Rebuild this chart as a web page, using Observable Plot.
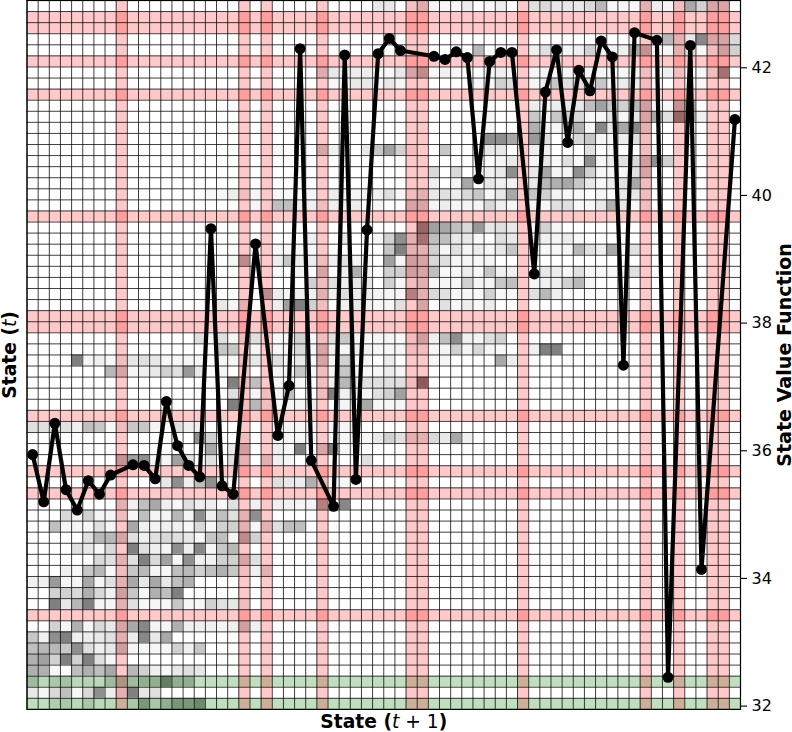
<!DOCTYPE html>
<html>
<head>
<meta charset="utf-8">
<script src="https://cdn.jsdelivr.net/npm/d3@7"></script>
<script src="https://cdn.jsdelivr.net/npm/@observablehq/plot@0.6"></script>
<style>
html,body{margin:0;padding:0;background:#fff}
svg{display:block}
</style>
</head>
<body>
<div id="chart"></div>
<script>
const nStates = 64;
const holeStates = [8,19,21,26,34,35,44,55,58,61,62];
const goalRowStates = [0,2];
const valueStates = [0,1,2,3,4,5,6,7,9,10,11,12,13,14,15,16,17,18,20,22,23,24,25,27,28,29,30,31,32,33,36,37,38,39,40,41,42,43,45,46,47,48,49,50,51,52,53,54,56,57,59,60,63];
const stateValues = [35.94,35.20,36.43,35.39,35.07,35.53,35.32,35.62,35.78,35.77,35.56,36.77,36.08,35.77,35.59,39.48,35.45,35.32,39.24,36.24,37.02,42.30,35.85,35.13,42.20,35.55,39.46,42.22,42.46,42.27,42.18,42.13,42.25,42.16,40.26,42.10,42.24,42.24,38.77,41.62,42.28,40.83,41.96,41.64,42.42,42.17,37.34,42.55,42.43,32.45,42.35,34.14,41.19];
const valueTicks = [32,34,36,38,40,42];
const valueDomain = [31.948,43.054];

// rows are counted from the top; each list is col, shade, col, shade, ...
const transitionRows = {
0:[31,9,32,9,34,4,35,15,36,4,37,3,38,3,39,7,41,3,42,7,45,12,46,15,47,9,48,9,49,9,50,15,51,28,52,3,53,4,54,3,55,12,56,7,57,4,58,6,59,34,60,18,61,18,62,18],
3:[56,7,57,28,58,12,59,9,60,47,61,18,62,18,63,15],
4:[40,28,45,6,46,12,47,4,48,4,49,6,50,18,51,6,52,4,53,6,54,34,55,28,56,4,57,4,58,12,59,15,60,3,61,6,62,22,63,18],
6:[26,15,27,9,28,7,29,7,30,7,31,3,32,3,33,9,34,18,35,31,36,3,37,6,38,3,41,3,42,6,43,3,45,4,46,4,47,4,48,4,49,4,50,4,51,4,52,3,53,3,54,4,55,6,56,3,57,6,58,6,59,3,60,3,61,6,62,44],
7:[27,3,28,4,29,9,30,9,31,4,32,9,33,4,40,3,41,3,42,18,43,12,45,4,46,7,47,22,48,12,49,12,50,12,51,22,52,4,53,7,54,7,55,6,56,3,59,3,60,3],
9:[45,7,46,3,47,7,48,9,49,9,50,25,51,37,52,22,53,18,54,28,55,22,56,4,57,3,58,28,59,37],
10:[40,3,41,3,45,22,46,4,47,22,48,18,49,15,50,3,51,3,52,9,53,3,54,9,55,18,56,34,57,12,58,50,59,37,60,6],
11:[41,3,45,31,46,4,47,3,48,9,49,31,50,4,51,47,52,9,53,34,54,47,55,12],
12:[41,44,42,44,43,34,45,40,46,12,49,15,50,22,51,4,52,3,53,7,54,12,55,6],
13:[22,3,26,18,27,6,28,6,30,9,31,22,32,37,33,18,34,6,37,22,40,6,41,9,42,9,45,7,46,6,50,12,52,3,55,6],
14:[42,4,43,9,45,4,46,9,47,3,48,12,49,3,50,44,51,4,52,7,53,12,54,15,55,22,56,44,57,18],
15:[36,15,38,15,41,6,42,9,43,44,45,9,46,34,47,4,48,4,49,44,50,18,51,3,52,3,53,4,54,12,55,18],
16:[36,6,38,4,39,34,41,9,42,6,43,6,45,9,46,28,47,31,48,34,49,22,50,9,51,3,52,7,53,12,54,34,55,6],
17:[16,3,17,3,18,7,19,6,20,4,22,3,23,3,25,4,27,7,28,4,29,4,30,6,31,6,32,12,33,4,34,6,35,12,36,9,37,12,38,7,39,15,40,22,41,4,42,9,43,34,45,22,46,18,47,4,48,3,49,3,51,4,53,9,54,9,55,6],
18:[20,4,22,25,23,25,24,7,25,6,26,6,27,6,28,6,29,7,31,4,34,18,35,18,36,4,37,7,38,4,39,4,40,4,41,15,42,6,43,4,45,4,46,3,47,12,48,12,49,3,50,3,51,9,52,31,53,9,54,3,55,6],
20:[35,50,36,37,37,34,38,25,39,15,40,40,41,9,42,12,43,9,45,4,46,18,47,4],
21:[25,6,28,9,31,3,32,18,33,44,34,12,35,44,36,25,37,25,38,9,39,9,40,3,42,12,43,9,45,6,46,6,47,4,48,7,49,3],
22:[22,3,23,3,24,3,25,3,32,22,33,50,34,12,35,12,36,18,37,4,38,12,39,4,40,7,41,4,42,9,43,22,45,6,46,3,47,3,48,4,49,28,50,12,51,7,52,34,54,12],
23:[18,4,19,31,22,7,23,22,24,7,25,7,26,6,27,6,28,12,29,4,30,4,32,37,33,4,34,22,35,18,36,15,37,12,38,4,39,3,40,3,41,4,45,3],
24:[22,3,24,4,26,18,28,7,29,31,30,4,32,18,33,18,34,22,35,18,36,25,37,3,38,3,39,7,40,3,41,22,42,6,43,6,46,9,47,7,48,3,49,12,50,3,51,3,52,3,53,3,54,12],
25:[25,18,26,6,27,12,28,6,29,9,30,9,32,18,33,4,34,6,35,12,36,3,37,4,38,3,39,18,40,4,41,4,42,22,43,25,45,4,46,6,47,6,48,18,49,28,50,4],
26:[21,31,22,7,23,4,24,6,25,6,26,12,27,6,28,12,29,7,30,7,31,4,32,4,33,4,34,37,35,12,36,15,37,12,38,3,39,3,40,3,41,18,42,3,43,3,45,12,46,28,47,6],
27:[17,9,18,4,19,12,22,7,23,37,24,50,25,18,26,6,28,6,29,9,30,6,31,3,32,3,33,12,35,18,37,12,38,3,39,7,40,3,41,7],
30:[15,12,16,3,17,12,18,4,19,6,20,12,22,3,23,4,24,18,25,3,26,6,27,12,28,22,29,4,30,3,31,4,32,4,33,3,34,6,35,22,36,6,37,25,38,44,39,6,40,4,41,12,42,18],
31:[17,22,18,22,20,4,22,3,23,4,24,15,25,3,26,18,27,6,28,4,29,6,30,6,31,3,32,3,33,4,34,6,35,6,36,3,37,4,38,18,39,4,40,15,41,4,42,3,45,6,46,50,47,50],
32:[4,50,5,4,6,6,7,3,8,6,9,9,10,12,11,9,12,3,13,3,14,3,15,3,17,4,18,3,19,6,20,9,22,12,23,4,24,9,25,3,26,18,27,4,28,18,29,3,30,3,32,7,36,3,37,4,42,34,43,7],
33:[7,28,8,18,9,3,10,6,11,9,12,18,13,12,14,40,15,9,17,4,22,4,23,4,24,22,25,3,26,6,27,3,28,22,29,3,30,3,31,3,32,7,33,4],
34:[18,50,19,6,20,25,22,3,24,3,26,6,27,6,28,28,29,9,30,12,31,12,32,12,33,12,34,6,35,55],
35:[18,12,20,4,21,6,22,4,23,25,26,6,27,50,28,6,29,6,30,4,31,12,32,18,33,37],
36:[18,50,19,6,20,28,21,6,22,3,23,4,24,4,25,7,28,4,29,3,30,34,31,3,32,3,33,4],
38:[0,12,1,12,2,12,3,12,4,6,5,25,6,22,7,3,8,6,9,22,10,22,11,4,12,3,13,12,14,6,15,6,22,4,23,4,24,4,25,4,27,4,28,4,29,4],
39:[15,44,16,18,19,6,22,4,23,4,24,4,25,4,27,4,28,4,29,4,30,3,31,9,32,18,33,12,34,12,35,12,36,15,37,9,38,34,39,6],
40:[16,34,18,9,19,22,22,7,23,3,24,50,26,18,27,50,28,3,29,4],
41:[8,28,9,37,10,44,11,4,12,4,13,37,14,12,16,12,18,12,19,12,21,12,22,6,23,4,30,12],
43:[12,9,13,44,14,6,15,25,16,44,17,9,22,12,23,9,24,7,25,31,26,6,28,3],
45:[8,12,9,6,10,25,11,34,12,6,13,3,14,12,15,7,16,7,17,3,18,12,20,6,22,6,23,6,24,4,25,4,26,37,28,47],
46:[3,15,4,4,5,18,6,4,7,4,8,6,9,3,10,25,11,4,12,4,13,28,14,4,15,44,16,6,17,25,18,12,19,12,20,44],
47:[2,25,3,4,4,4,5,3,6,12,7,4,9,34,10,6,11,4,12,6,13,6,14,3,15,15,16,3,17,18,18,18,19,12,20,3,21,12,22,12,23,25,24,25],
48:[5,12,6,28,7,28,8,18,9,12,10,6,11,12,12,15,13,12,14,9,15,3,16,22,17,25,18,4,19,31,20,18],
49:[4,12,5,9,6,3,7,15,9,50,10,12,11,6,12,4,13,44,14,6,15,47,16,4,17,22,18,28],
50:[6,15,7,12,8,12,9,12,10,50,11,15,12,37,13,3,14,44,15,6,16,6,17,18,18,18,19,18,20,12],
51:[3,6,4,3,5,22,6,28,7,3,8,6,9,22,10,28,11,4,12,3,13,25,14,28,15,18,16,25,17,31,18,22,19,6,20,6,21,12],
52:[0,6,1,6,2,40,3,4,4,4,5,34,6,4,7,12,8,12,9,34,10,9,11,34,12,9,13,25,14,31],
53:[2,18,3,18,4,15,5,31,6,15,7,6,8,22,9,22,10,3,11,31,12,25,13,50],
54:[2,50,3,9,4,28,5,50,6,4,7,4,8,12,9,12,10,3,11,3,12,3,13,22,14,3,15,3,16,18,17,12,18,9,19,6],
56:[2,18,3,4,4,31,5,4,6,15,7,9,8,18,9,34,10,47,11,4,12,4,13,31,14,6,15,6,16,6,17,4,18,6,19,22,20,6],
57:[0,22,1,6,2,44,3,50,4,6,5,7,6,9,7,12,8,12,9,7,10,47,11,9,12,34],
58:[0,25,1,28,2,28,3,22,4,44,5,12,6,6,7,9,8,22,9,4,10,3,11,3,12,3,13,18,14,6,15,22],
59:[0,31,1,37,2,18,3,50,4,18,5,50,6,12,7,3],
60:[0,31,1,31,2,3,4,25,5,31,6,25,7,34,9,28,10,18,11,6,12,3,13,9,14,12,15,9],
61:[0,18,1,3,2,12,3,15,4,3,5,6,6,3,7,18,8,18,9,18,10,25,11,25,12,50,13,25,14,25],
62:[0,9,1,3,2,15,3,25,4,3,5,15,6,44,7,7,8,12,9,50,10,9,11,12],
63:[2,9,3,12,4,3,5,12,6,3,7,3,9,12,10,37,11,12,12,25,13,37,14,37,15,44]
};

const rowHeight = (valueDomain[1] - valueDomain[0]) / nStates;
const rowTop = r => valueDomain[1] - r * rowHeight;
const xMin = -0.5, xMax = nStates - 0.5;

const shadeCells = [];
for (const [r, list] of Object.entries(transitionRows)) {
  for (let i = 0; i < list.length; i += 2) shadeCells.push({row: +r, col: list[i], shade: list[i + 1]});
}
const points = valueStates.map((s, i) => ({state: s, value: stateValues[i]}));
const edges = d3.range(nStates + 1);

const rowBand = (states, opts) => Plot.rect(states, {
  x1: xMin, x2: xMax,
  y1: s => rowTop(nStates - s),
  y2: s => rowTop(nStates - 1 - s),
  ...opts
});

const midX = (xMin + xMax) / 2, midY = (valueDomain[0] + valueDomain[1]) / 2;
const labelFont = {fontSize: 18.7, fontWeight: "bold", fill: "black"};

const plot = Plot.plot({
  width: 792,
  height: 732,
  marginTop: 0,
  marginLeft: 26.5,
  marginRight: 52,
  marginBottom: 23.1,
  style: {background: "white", fontFamily: "'DejaVu Sans'", fontSize: "16px", color: "black", overflow: "visible"},
  x: {domain: [xMin, xMax], axis: null},
  y: {domain: valueDomain},
  color: {type: "linear", domain: [0, 100], range: ["white", "black"]},
  marks: [
    Plot.rect(shadeCells, {
      x1: d => d.col - 0.5, x2: d => d.col + 0.5,
      y1: d => rowTop(d.row + 1), y2: d => rowTop(d.row),
      fill: "shade"
    }),
    rowBand(goalRowStates, {fill: "green", fillOpacity: 0.25}),
    rowBand(holeStates, {fill: "red", fillOpacity: 0.21}),
    Plot.rect(holeStates, {
      x1: s => s - 0.5, x2: s => s + 0.5,
      y1: valueDomain[0], y2: valueDomain[1],
      fill: "red", fillOpacity: 0.21
    }),
    Plot.ruleX(edges, {x: c => c - 0.5, stroke: "black", strokeWidth: 0.75}),
    Plot.ruleY(edges, {y: r => rowTop(r), stroke: "black", strokeWidth: 0.75}),
    Plot.frame({stroke: "black", strokeWidth: 1.2}),
    Plot.line(points, {x: "state", y: "value", stroke: "black", strokeWidth: 4.2, curve: "linear"}),
    Plot.dot(points, {x: "state", y: "value", r: 5.5, fill: "black"}),
    Plot.axisY({anchor: "right", ticks: valueTicks, tickFormat: d => String(d), tickSize: 6, tickPadding: 5, label: null, fontSize: 16, stroke: "black", strokeWidth: 1.1}),
    Plot.text(["State (t + 1)"], {x: midX, y: 31.75, text: d => d, ...labelFont, className: "lab-x"}),
    Plot.text(["State (t)"], {x: -2.05, y: midY, rotate: -90, text: d => d, ...labelFont, className: "lab-l"}),
    Plot.text(["State Value Function"], {x: 67.45, y: midY, rotate: -90, text: d => d, ...labelFont, fontSize: 19.1})
  ]
});

// italic math parts of the axis labels
function mathLabel(cls, before, math, after) {
  const t = plot.querySelector(`g.${cls} text`);
  if (!t) return;
  t.textContent = "";
  const add = (s, attrs) => {
    const ts = document.createElementNS("http://www.w3.org/2000/svg", "tspan");
    ts.textContent = s;
    for (const k in attrs) ts.setAttribute(k, attrs[k]);
    t.appendChild(ts);
  };
  add(before, {});
  add(math[0], {"font-style": "italic", "font-weight": "normal"});
  if (math.length > 1) add(math.slice(1), {"font-weight": "normal"});
  add(after, {});
}
mathLabel("lab-x", "State (", "t + 1", ")");
mathLabel("lab-l", "State (", "t", ")");

document.getElementById("chart").appendChild(plot);
</script>
</body>
</html>
